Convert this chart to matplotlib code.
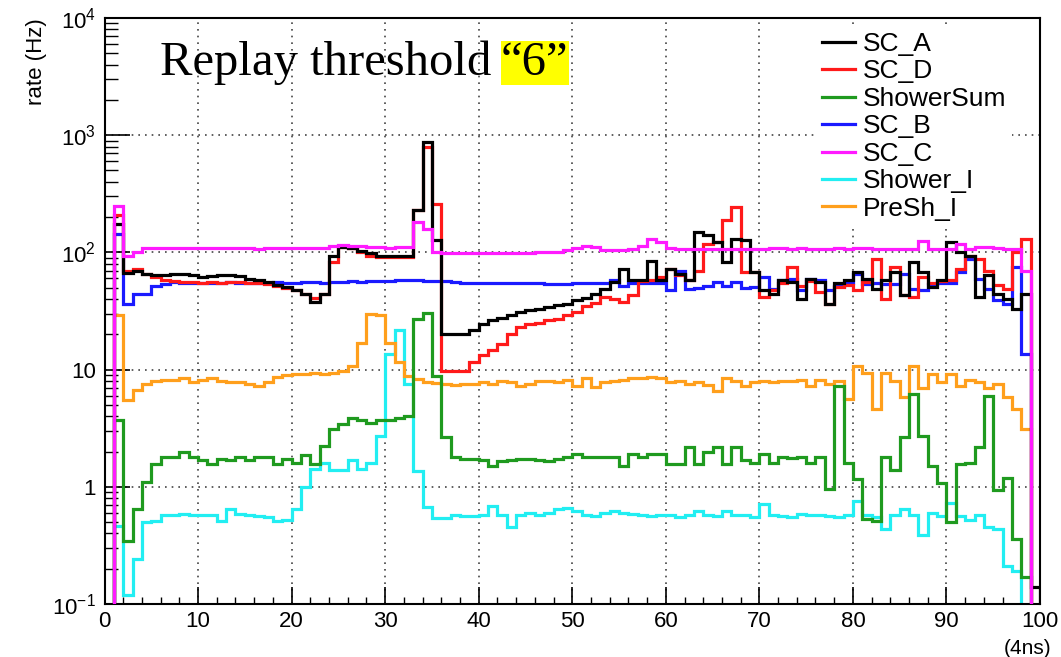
import numpy as np
import matplotlib
matplotlib.use("Agg")
import matplotlib.pyplot as plt
from matplotlib.ticker import FixedLocator, FixedFormatter, MultipleLocator

plt.rcParams['font.family'] = ['Liberation Sans', 'DejaVu Sans']
plt.rcParams['mathtext.fontset'] = 'custom'
plt.rcParams['mathtext.rm'] = 'Liberation Sans'
plt.rcParams['mathtext.it'] = 'Liberation Sans:italic'

# bin edges 0..100 (unit = 4 ns)
edges = np.arange(0, 101)

sc_a = [0, 176, 67, 70, 66, 64, 64, 65, 65, 64,
        62, 63, 64, 64, 63, 59, 57.6, 56, 53, 50.7,
        47.5, 44.5, 38, 43.8, 94, 111, 109, 103, 98, 94,
        94, 94, 94, 228, 877, 128, 20.2, 20.2, 20.2, 21.8,
        24.6, 26.5, 27.3, 29, 30.9, 32, 32.8, 34, 35.3, 36.4,
        38.9, 41, 44.5, 48.8, 55.7, 72.4, 57.6, 57.6, 84, 57.6,
        72, 66, 58, 149, 140, 122, 82.6, 131, 127, 67.7,
        47.5, 44.5, 57.6, 56, 40, 59, 56, 36.4, 55, 57.6,
        67.7, 59, 49, 57.6, 67.7, 43, 82.6, 67.7, 50.6, 57.6,
        122, 100, 94, 41.7, 63.7, 44.5, 40, 33, 44.5, 0.14]

sc_d = [0, 207, 70, 72, 66, 62, 57.6, 57, 56, 56,
        55, 56, 55, 56, 56, 55, 55, 54, 52, 50,
        47.5, 44, 41, 44, 82.6, 111, 108, 101, 93, 91,
        91, 91, 91, 228, 795, 260, 9.66, 9.66, 9.8, 11.5,
        13.2, 14.7, 16.6, 20.2, 22.9, 24.6, 25, 26.5, 27, 29,
        31, 35, 37, 42, 40, 38, 43, 57, 58, 62,
        72, 64, 58, 70, 119, 122, 188, 244, 67.7, 67.7,
        41.7, 47.5, 55, 75, 52, 57, 46, 36.4, 50.6, 53,
        47.5, 56, 88, 40, 75, 43, 41.7, 62, 55, 57,
        58, 72.5, 94, 88, 70, 53, 48.7, 100, 131, 0]

shower_sum = [0, 3.7, 0.345, 0.64, 1.09, 1.56, 1.78, 1.78, 2.0, 1.78,
              1.7, 1.55, 1.72, 1.7, 1.78, 1.7, 1.78, 1.8, 1.55, 1.72,
              1.6, 1.85, 1.57, 2.24, 3.1, 3.43, 3.9, 3.7, 3.5, 3.7,
              3.7, 3.9, 4.0, 27, 30.4, 8.9, 2.64, 1.78, 1.72, 1.72,
              1.7, 1.5, 1.65, 1.7, 1.72, 1.72, 1.68, 1.65, 1.72, 1.8,
              1.9, 1.8, 1.8, 1.8, 1.8, 1.5, 1.9, 1.8, 1.9, 1.9,
              1.57, 1.57, 2.17, 1.57, 2.0, 2.17, 1.57, 2.17, 1.7, 1.6,
              1.9, 1.6, 1.8, 1.75, 1.8, 1.6, 1.8, 0.95, 7.3, 1.6,
              1.16, 0.53, 0.51, 1.78, 1.4, 2.64, 6.2, 2.7, 1.5, 1.07,
              0.5, 1.55, 1.6, 2.2, 5.9, 0.94, 1.2, 0.36, 0.17, 0]

sc_b = [0, 144, 36.4, 44.5, 44.5, 52, 54, 56, 55, 55,
        55, 55, 55, 56, 55, 55, 55, 55, 56, 55,
        55, 56, 56, 55, 56, 56, 57, 56, 57, 57,
        57, 58, 58, 58, 57, 57, 57, 56, 55, 55,
        55, 55, 55, 55, 55, 55, 55, 54, 54, 54,
        55, 55, 55, 55, 58, 51.5, 55, 55, 55, 55,
        47.5, 70, 48.8, 50, 52, 56, 52, 56, 50, 51,
        61.7, 49, 57.6, 59, 47.5, 59, 57.6, 47.5, 52, 55,
        65.6, 54, 55, 54, 54, 65.6, 49, 47.5, 54, 55,
        55, 67.7, 88, 59, 49, 38.9, 36.4, 75, 13.6, 0]

sc_c = [0, 247, 92.5, 100, 108, 108, 109, 108, 108, 108,
        108, 109, 108, 108, 108, 108, 107, 108, 108, 108,
        108, 108, 108, 108, 114, 116, 114, 113, 111, 111,
        110, 111, 111, 182, 159, 100, 98, 98, 98, 99,
        99, 99, 98, 98, 99, 99, 100, 100, 101, 105,
        110, 113, 112, 105, 105, 105, 106, 114, 131, 122,
        110, 106, 106, 106, 106, 107, 106, 107, 106, 107,
        107, 108, 108, 107, 108, 107, 106, 106, 108, 107,
        108, 108, 106, 106, 107, 106, 107, 126, 107, 106,
        106, 118, 107, 112, 112, 110, 106, 107, 70, 0]

shower_i = [0, 0.46, 0.12, 0.24, 0.50, 0.51, 0.58, 0.58, 0.59, 0.58,
            0.58, 0.57, 0.51, 0.64, 0.59, 0.57, 0.56, 0.55, 0.51, 0.52,
            0.64, 0.99, 1.42, 1.6, 1.4, 1.4, 1.7, 1.42, 1.6, 2.73,
            13.6, 21.6, 7.5, 1.37, 0.67, 0.54, 0.54, 0.58, 0.56, 0.56,
            0.58, 0.69, 0.58, 0.45, 0.57, 0.6, 0.58, 0.6, 0.64, 0.66,
            0.62, 0.58, 0.56, 0.6, 0.62, 0.6, 0.59, 0.57, 0.56, 0.58,
            0.57, 0.55, 0.58, 0.62, 0.58, 0.56, 0.62, 0.58, 0.58, 0.55,
            0.72, 0.58, 0.56, 0.55, 0.59, 0.58, 0.57, 0.56, 0.55, 0.58,
            0.76, 0.58, 0.55, 0.44, 0.57, 0.64, 0.58, 0.39, 0.6, 0.56,
            0.73, 0.56, 0.52, 0.57, 0.45, 0.44, 0.21, 0.19, 0, 0]

presh_i = [0, 29, 5.5, 6.7, 7.5, 8.0, 8.2, 8.2, 8.4, 7.8,
           8.2, 8.4, 8.0, 7.9, 7.8, 7.5, 7.3, 7.8, 8.6, 9.0,
           9.2, 9.2, 9.4, 9.2, 9.4, 9.7, 10.8, 16.8, 30, 29,
           17, 11.5, 8.9, 8.3, 7.9, 7.7, 7.5, 7.4, 7.5, 7.6,
           7.8, 7.5, 8.0, 7.8, 7.3, 7.6, 8.0, 8.0, 7.8, 8.1,
           7.3, 8.4, 7.1, 7.8, 8.0, 8.1, 8.4, 8.4, 8.6, 8.4,
           7.8, 8.0, 7.6, 7.8, 7.4, 6.6, 8.4, 8.0, 7.3, 7.8,
           8.0, 7.8, 8.0, 8.0, 8.2, 7.3, 8.2, 7.5, 8.0, 5.6,
           10.8, 9.4, 4.6, 9.4, 8.0, 5.8, 10.8, 6.9, 9.2, 7.8,
           9.2, 7.3, 8.2, 7.8, 6.9, 7.5, 5.8, 4.6, 3.1, 0]

names = ["SC_A", "SC_D", "ShowerSum", "SC_B", "SC_C", "Shower_I", "PreSh_I"]
series = [sc_a, sc_d, shower_sum, sc_b, sc_c, shower_i, presh_i]
colors = ["#000000", "#ff1a1a", "#1f9a1f", "#1a1aff", "#ff1aff", "#22eef2", "#ff9f1c"]
zorders = [6, 5, 4, 3, 7, 2, 2]

fig = plt.figure(figsize=(10.61, 6.57), dpi=100)
ax = fig.add_axes([0.0985, 0.0807, 0.8817, 0.8919])

for name, vals, c, z in zip(names, series, colors, zorders):
    v = np.array(vals, dtype=float)
    v = np.where(v > 0, v, 0.01)   # empty bins drop below the axis floor
    ax.stairs(v, edges, color=c, lw=2.3, label=name, zorder=z)

ax.set_yscale('log')
ax.set_xlim(0, 100)
ax.set_ylim(0.1, 1e4)

ax.yaxis.set_major_locator(FixedLocator([0.1, 1, 10, 100, 1000, 10000]))
ax.yaxis.set_major_formatter(FixedFormatter(['$10^{-1}$', '1', '10', '$10^{2}$', '$10^{3}$', '$10^{4}$']))
ax.xaxis.set_major_locator(MultipleLocator(10))
ax.xaxis.set_minor_locator(MultipleLocator(2))

ax.tick_params(axis='both', which='both', direction='in', top=False, right=False)
ax.tick_params(axis='y', which='major', length=18, width=1.2, labelsize=16, pad=6)
ax.tick_params(axis='y', which='minor', length=9, width=1.0)
ax.tick_params(axis='x', which='major', length=12, width=1.2, labelsize=16, pad=5)
ax.tick_params(axis='x', which='minor', length=5, width=1.0)

ax.grid(True, which='major', color='#444444', linestyle=(0, (1, 3)), lw=1.2)
for s in ax.spines.values():
    s.set_linewidth(1.5)

ax.set_ylabel('rate (Hz)', loc='top', fontsize=16, labelpad=4)
ax.set_xlabel('(4ns)', loc='right', fontsize=15)
ax.xaxis.set_label_coords(1.012, -0.06)

leg = ax.legend(loc='upper right', bbox_to_anchor=(0.97, 0.985), fontsize=19,
                frameon=True, fancybox=False, framealpha=1, edgecolor='none',
                handlelength=1.25, handletextpad=0.3, labelspacing=0.13,
                borderpad=0.2, borderaxespad=0)
leg.set_zorder(10)

t1 = ax.text(0.0593, 0.9027, 'Replay threshold', transform=ax.transAxes,
             family=['Liberation Serif', 'DejaVu Serif'], fontsize=35,
             va='baseline', ha='left', zorder=11)
ax.annotate('\u201c6\u201d', xy=(1, 0), xycoords=t1, xytext=(7, 0),
            textcoords='offset points', family=['Liberation Serif', 'DejaVu Serif'],
            fontsize=35, va='bottom', ha='left', zorder=11,
            bbox=dict(facecolor='#ffff00', edgecolor='none', pad=0))

fig.savefig('out.png', dpi=100)
